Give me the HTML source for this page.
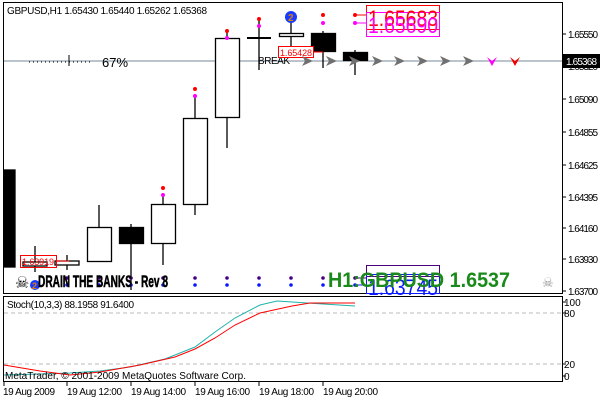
<!DOCTYPE html>
<html><head><meta charset="utf-8"><style>
html,body{margin:0;padding:0;background:#fff;}
svg{display:block;font-family:"Liberation Sans",sans-serif;}
</style></head><body>
<svg width="600" height="400" viewBox="0 0 600 400" xmlns="http://www.w3.org/2000/svg">
<rect width="600" height="400" fill="#fff"/>
<rect x="3.5" y="2.5" width="559" height="291" fill="none" stroke="#000"/>
<rect x="3.5" y="296.5" width="559" height="85" fill="none" stroke="#000"/>
<g font-size="10" fill="#000">
<g stroke="#000">
<line x1="562" y1="34" x2="566" y2="34"/><line x1="562" y1="66" x2="566" y2="66"/>
<line x1="562" y1="99" x2="566" y2="99"/><line x1="562" y1="132" x2="566" y2="132"/>
<line x1="562" y1="165" x2="566" y2="165"/><line x1="562" y1="197" x2="566" y2="197"/>
<line x1="562" y1="228" x2="566" y2="228"/><line x1="562" y1="259" x2="566" y2="259"/>
<line x1="562" y1="291" x2="566" y2="291"/>
</g>
<text x="568" y="38" textLength="30">1.65550</text><text x="568" y="70" textLength="30">1.65320</text>
<text x="568" y="103" textLength="30">1.65090</text><text x="568" y="136" textLength="30">1.64855</text>
<text x="568" y="169" textLength="30">1.64625</text><text x="568" y="201" textLength="30">1.64395</text>
<text x="568" y="232" textLength="30">1.64160</text><text x="568" y="263" textLength="30">1.63930</text>
<text x="568" y="295" textLength="30">1.63700</text>
<rect x="563" y="54" width="37" height="14" fill="#000"/>
<text x="566" y="65" fill="#fff" textLength="31">1.65368</text>
</g>
<text x="7" y="14" font-size="10" textLength="200">GBPUSD,H1  1.65430 1.65440 1.65262 1.65368</text>
<line x1="4" y1="61" x2="562" y2="61" stroke="#778899"/>
<line x1="29" y1="62" x2="93" y2="62" stroke="#000" stroke-dasharray="1,3"/>
<line x1="69" y1="55" x2="69" y2="66" stroke="#000"/>
<text x="102" y="67" font-size="13" textLength="26">67%</text>
<g stroke="#000" stroke-width="1.3">
<rect x="4" y="170" width="11" height="97" fill="#000"/>
<line x1="35" y1="246" x2="35" y2="272"/><rect x="23" y="262" width="24" height="4" fill="#fff"/>
<line x1="67" y1="255" x2="67" y2="270"/><rect x="55" y="261" width="24" height="4" fill="#fff"/>
<line x1="99" y1="205" x2="99" y2="227"/><rect x="87.5" y="227.5" width="24" height="34" fill="#fff"/>
<line x1="131" y1="224" x2="131" y2="290"/><rect x="119.5" y="227.5" width="24" height="16" fill="#000"/>
<line x1="163" y1="195" x2="163" y2="265"/><rect x="151.5" y="204.5" width="24" height="39" fill="#fff"/>
<line x1="195" y1="97" x2="195" y2="215"/><rect x="183.5" y="118.5" width="24" height="86" fill="#fff"/>
<line x1="227" y1="32" x2="227" y2="148"/><rect x="215.5" y="38.5" width="24" height="79" fill="#fff"/>
<line x1="259" y1="20" x2="259" y2="70"/><line x1="247" y1="38" x2="271" y2="38" stroke-width="2"/>
<line x1="291" y1="22" x2="291" y2="55"/><rect x="279.5" y="33.5" width="24" height="3" fill="#fff"/>
<line x1="323" y1="31" x2="323" y2="68"/><rect x="311.5" y="33.5" width="24" height="18" fill="#000"/>
<line x1="355" y1="50" x2="355" y2="75"/><rect x="343.5" y="52.5" width="24" height="8" fill="#000"/>
</g>
<g>
<circle cx="163" cy="188" r="2" fill="#f00"/><circle cx="163" cy="195" r="2" fill="#f0f"/>
<circle cx="195" cy="89" r="2" fill="#f00"/><circle cx="195" cy="96" r="2" fill="#f0f"/>
<circle cx="227" cy="31" r="2" fill="#f00"/><circle cx="227" cy="38" r="2" fill="#f0f"/>
<circle cx="259" cy="19" r="2" fill="#f00"/><circle cx="259" cy="26" r="2" fill="#f0f"/>
<circle cx="323" cy="15" r="2" fill="#f00"/><circle cx="323" cy="23" r="2" fill="#f0f"/>
<circle cx="355" cy="15" r="2" fill="#f00"/><circle cx="355" cy="23" r="2" fill="#f0f"/>
<line x1="355" y1="15" x2="366" y2="15" stroke="#f00"/><line x1="355" y1="23" x2="366" y2="23" stroke="#f0f"/>
<circle cx="291" cy="17" r="6" fill="#1a3aff"/><text x="288" y="21" font-size="10" fill="#e08000" font-weight="bold">2</text>
</g>
<rect x="366.5" y="5.5" width="73" height="24" fill="none" stroke="#f00"/>
<rect x="366.5" y="12.5" width="73" height="24" fill="none" stroke="#f0f"/>
<text x="368" y="26" font-size="22" fill="#f00" textLength="70" lengthAdjust="spacingAndGlyphs">1.65683</text>
<text x="368" y="33" font-size="22" fill="#f0f" textLength="70" lengthAdjust="spacingAndGlyphs">1.65690</text>
<text x="258" y="64" font-size="10" textLength="32">BREAK</text>
<rect x="278.5" y="46.5" width="35" height="11" fill="#fff" stroke="#f00"/>
<text x="280" y="56" font-size="9" fill="#f00" textLength="32">1.65428</text>
<line x1="313" y1="52" x2="323" y2="52" stroke="#f00"/>
<g fill="#707070">
<path d="M302 56 L313 61 L302 66 L305 61Z"/><path d="M326 56 L337 61 L326 66 L329 61Z"/>
<path d="M349 56 L360 61 L349 66 L352 61Z"/><path d="M372 56 L383 61 L372 66 L375 61Z"/>
<path d="M394 56 L405 61 L394 66 L397 61Z"/><path d="M417 56 L428 61 L417 66 L420 61Z"/>
<path d="M440 56 L451 61 L440 66 L443 61Z"/><path d="M463 56 L474 61 L463 66 L466 61Z"/>
</g>
<path d="M487 57 L492 66 L497 57 L492 61Z" fill="#f0f"/>
<path d="M510 57 L515 66 L520 57 L515 61Z" fill="#e00"/>
<rect x="20.5" y="255.5" width="36" height="12" fill="none" stroke="#f00"/>
<text x="22" y="265" font-size="9" fill="#f00" textLength="32">1.63919</text>
<line x1="56" y1="261" x2="69" y2="261" stroke="#f00"/>
<text x="15" y="288" font-size="16">☠</text>
<circle cx="35" cy="285" r="5" fill="#1a3aff"/><text x="32" y="289" font-size="9" fill="#e08000" font-weight="bold">2</text>
<g fill="#4b0082">
<circle cx="67" cy="278" r="1.8"/><circle cx="99" cy="278" r="1.8"/><circle cx="131" cy="278" r="1.8"/><circle cx="163" cy="278" r="1.8"/><circle cx="195" cy="278" r="1.8"/><circle cx="227" cy="278" r="1.8"/><circle cx="259" cy="278" r="1.8"/><circle cx="291" cy="278" r="1.8"/><circle cx="323" cy="278" r="1.8"/><circle cx="355" cy="278" r="1.8"/>
</g>
<g fill="#0a1aff">
<circle cx="67" cy="285" r="1.8"/><circle cx="99" cy="285" r="1.8"/><circle cx="131" cy="285" r="1.8"/><circle cx="163" cy="285" r="1.8"/><circle cx="195" cy="285" r="1.8"/><circle cx="227" cy="285" r="1.8"/><circle cx="259" cy="285" r="1.8"/><circle cx="291" cy="285" r="1.8"/><circle cx="323" cy="285" r="1.8"/><circle cx="355" cy="285" r="1.8"/>
</g>
<text x="38" y="287" font-size="17" font-weight="bold" stroke="#000" stroke-width="0.6" textLength="130" lengthAdjust="spacingAndGlyphs">DRAIN THE BANKS - Rev 8</text>
<rect x="366.5" y="265.5" width="73" height="11" fill="none" stroke="#4b0082"/>
<rect x="366.5" y="274.5" width="73" height="19" fill="none" stroke="#0a1aff"/>
<line x1="355" y1="278" x2="366" y2="278" stroke="#4b0082"/>
<line x1="355" y1="285" x2="366" y2="285" stroke="#0a1aff"/>
<text x="368" y="295" font-size="22" fill="#0a1aff" textLength="70" lengthAdjust="spacingAndGlyphs">1.63745</text>
<text x="328" y="287" font-size="21" font-weight="bold" fill="#1a8a1a" textLength="182" lengthAdjust="spacingAndGlyphs">H1:GBPUSD 1.6537</text>
<text x="542" y="287" font-size="13" fill="#999">☠</text>
<line x1="4" y1="313" x2="562" y2="313" stroke="#bbb" stroke-dasharray="4,3"/>
<line x1="4" y1="364" x2="562" y2="364" stroke="#bbb" stroke-dasharray="4,3"/>
<g font-size="10">
<line x1="562" y1="302" x2="566" y2="302" stroke="#000"/><line x1="562" y1="313" x2="566" y2="313" stroke="#000"/>
<line x1="562" y1="364" x2="566" y2="364" stroke="#000"/><line x1="562" y1="376" x2="566" y2="376" stroke="#000"/>
<text x="564" y="306">100</text><text x="564" y="317">80</text><text x="564" y="368">20</text><text x="564" y="380">0</text>
<text x="7" y="308" textLength="127">Stoch(10,3,3) 88.1958 91.6400</text>
</g>
<polyline fill="none" stroke="#20b2aa" stroke-width="1" points="4,375 40,374 70,373 100,371 130,367 165,359 195,347 215,332 235,318 260,305 277,301 292,302 323,304 355,306"/>
<polyline fill="none" stroke="#f00" stroke-width="1" points="4,365 40,371 70,375 100,372 140,365 175,357 195,349 215,338 235,325 260,313 292,306 310,303 323,303 355,303"/>
<text x="5" y="379" font-size="10" textLength="241">MetaTrader, © 2001-2009 MetaQuotes Software Corp.</text>
<g stroke="#000">
<line x1="4" y1="381" x2="4" y2="386"/><line x1="67" y1="381" x2="67" y2="386"/><line x1="131" y1="381" x2="131" y2="386"/>
<line x1="195" y1="381" x2="195" y2="386"/><line x1="259" y1="381" x2="259" y2="386"/><line x1="323" y1="381" x2="323" y2="386"/>
</g>
<g font-size="10">
<text x="3" y="395" textLength="52">19 Aug 2009</text><text x="67" y="395" textLength="55">19 Aug 12:00</text><text x="131" y="395" textLength="55">19 Aug 14:00</text>
<text x="195" y="395" textLength="55">19 Aug 16:00</text><text x="259" y="395" textLength="55">19 Aug 18:00</text><text x="323" y="395" textLength="55">19 Aug 20:00</text>
</g>
</svg>
</body></html>
